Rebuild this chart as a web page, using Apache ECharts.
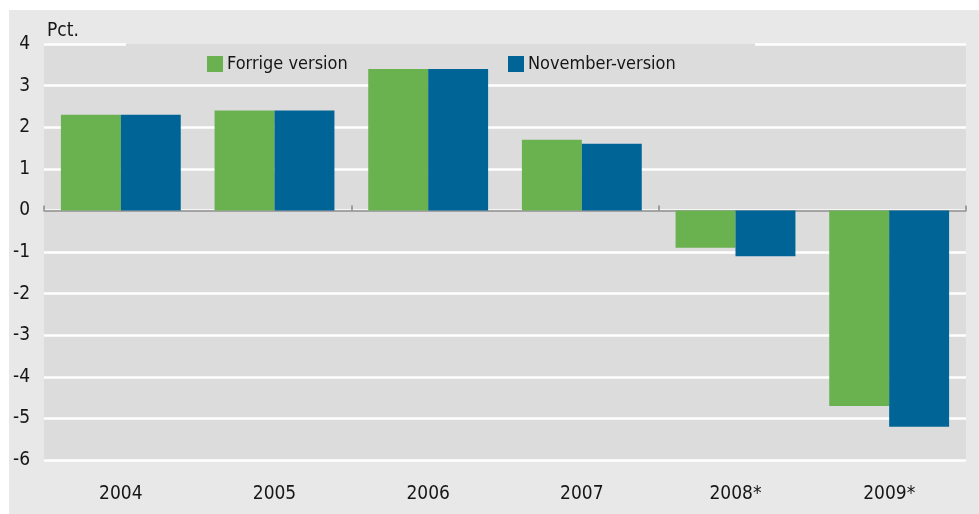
<!DOCTYPE html>
<html>
<head>
<meta charset="utf-8">
<script src="https://cdn.jsdelivr.net/npm/echarts@6/dist/echarts.min.js"></script>
<style>
  html, body { margin: 0; padding: 0; background: #fff; }
  #wrap { position: relative; width: 979px; height: 514px; background: #fff; }
  #chart { position: absolute; left: 9px; top: 10px; width: 970px; height: 504px; }
</style>
</head>
<body>
<div id="wrap"><div id="chart"></div></div>
<script>
// 数据
const years = ['2004', '2005', '2006', '2007', '2008*', '2009*']
const forrige = [2.3, 2.4, 3.4, 1.7, -0.9, -4.7]
const november = [2.3, 2.4, 3.4, 1.6, -1.1, -5.2]
const yTicks = [-6, -5, -4, -3, -2, -1, 0, 1, 2, 3, 4]

const font = "'Liberation Sans Narrow', 'DejaVu Sans Condensed', sans-serif"
const green = '#6ab150'
const blue = '#006496'
const txt = '#161616'

const chart = echarts.init(document.getElementById('chart'))
chart.setOption({
  backgroundColor: '#e8e8e8',
  animation: false,
  textStyle: { fontFamily: font },
  title: {
    text: 'Pct.',
    left: 33,
    top: 7,
    textStyle: { fontFamily: font, fontSize: 19, fontWeight: 'normal', color: txt }
  },
  legend: [
    {
      data: ['Forrige version'],
      left: 193, top: 40,
      itemWidth: 16, itemHeight: 16, icon: 'rect',
      textStyle: { fontFamily: font, fontSize: 18, color: txt, padding: [0, 0, 0, -1] }
    },
    {
      data: ['November-version'],
      left: 494, top: 40,
      itemWidth: 16, itemHeight: 16, icon: 'rect',
      textStyle: { fontFamily: font, fontSize: 18, color: txt, padding: [0, 0, 0, -1] }
    }
  ],
  grid: {
    left: 35, right: 13, top: 34, bottom: 54,
    show: true, backgroundColor: '#dcdcdc', borderWidth: 0
  },
  // 盖住图例后面的最上面一条网格线
  graphic: [
    {
      type: 'rect', z: 100,
      shape: { x: 117, y: 30, width: 629, height: 4 },
      style: { fill: '#e8e8e8' }
    },
    {
      type: 'rect', z: 100,
      shape: { x: 117, y: 34, width: 629, height: 3 },
      style: { fill: '#dcdcdc' }
    }
  ],
  xAxis: [
    {
      type: 'category', data: years, position: 'bottom',
      axisLine: { onZero: false, show: false },
      axisTick: { show: false },
      axisLabel: { fontFamily: font, fontSize: 19, color: txt, margin: 25 }
    },
    {
      type: 'category', data: years, position: 'top',
      axisLine: { onZero: true, lineStyle: { color: '#888888', width: 1.5 } },
      axisTick: { show: true, interval: 1, length: 5, lineStyle: { color: '#888888', width: 1.5 } },
      axisLabel: { show: false }
    }
  ],
  yAxis: {
    type: 'value', min: yTicks[0], max: yTicks[yTicks.length - 1], interval: 1,
    axisLine: { show: false },
    axisTick: { show: false },
    splitLine: { lineStyle: { color: '#ffffff', width: 2.5 } },
    axisLabel: { fontFamily: font, fontSize: 19, color: txt, margin: 14 }
  },
  series: [
    {
      name: 'Forrige version', type: 'bar', data: forrige,
      barGap: '0%', barCategoryGap: '22%',
      itemStyle: { color: green }, z: 3
    },
    {
      name: 'November-version', type: 'bar', data: november,
      itemStyle: { color: blue }, z: 3
    }
  ]
})
</script>
</body>
</html>
